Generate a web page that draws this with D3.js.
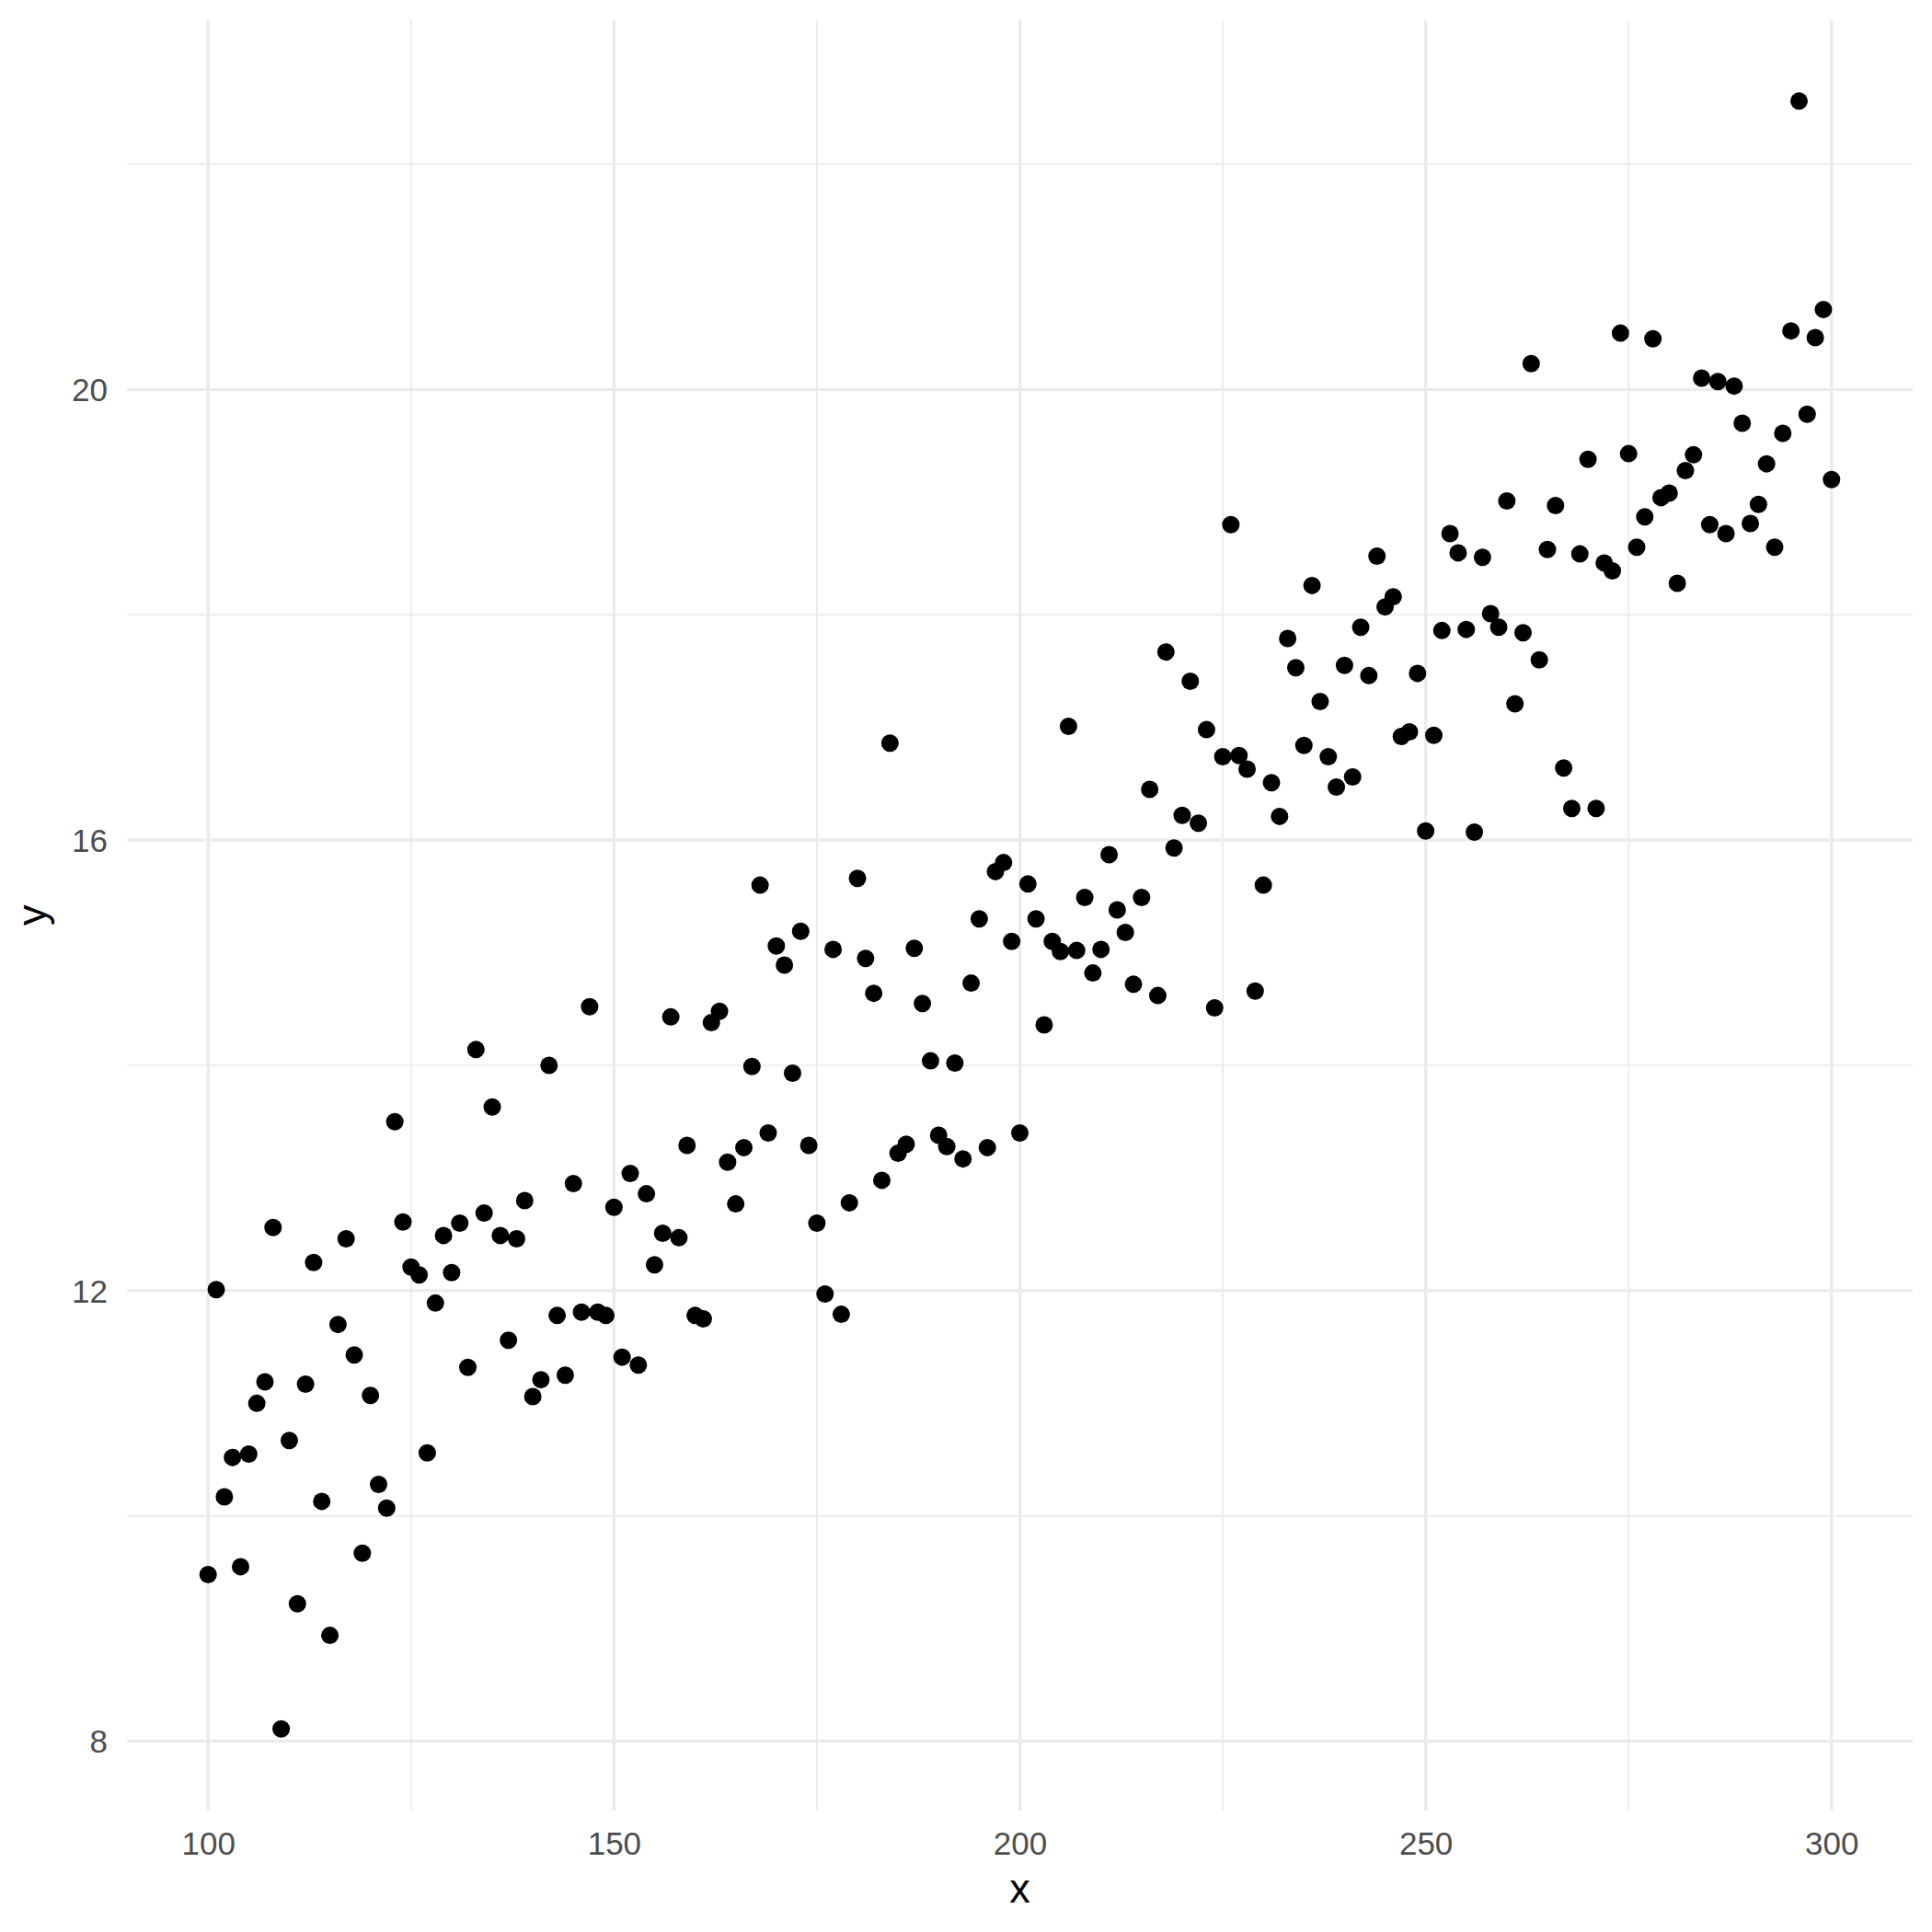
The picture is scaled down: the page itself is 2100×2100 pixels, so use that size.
<!DOCTYPE html>
<html>
<head>
<meta charset="utf-8">
<script src="https://cdn.jsdelivr.net/npm/d3@7"></script>
<style>
  html, body { margin: 0; padding: 0; background: #fff; }
  svg { display: block; }
  text { font-family: "Liberation Sans", Arial, Helvetica, sans-serif; }
</style>
</head>
<body>
<script>
// x values: one point for each integer from 100 to 300
const xStart = 100;
const yValues = [
  9.48, 12.01, 10.17, 10.52, 9.55, 10.55, 11.00, 11.19, 12.56, 8.11,
  10.67, 9.22, 11.17, 12.25, 10.13, 8.94, 11.70, 12.46, 11.43, 9.67,
  11.07, 10.28, 10.07, 13.50, 12.61, 12.21, 12.14, 10.56, 11.89, 12.49,
  12.16, 12.60, 11.32, 14.14, 12.69, 13.63, 12.49, 11.56, 12.46, 12.80,
  11.06, 11.21, 14.00, 11.78, 11.25, 12.95, 11.81, 14.52, 11.81, 11.78,
  12.74, 11.41, 13.04, 11.34, 12.86, 12.23, 12.51, 14.43, 12.47, 13.29,
  11.78, 11.75, 14.38, 14.48, 13.14, 12.77, 13.27, 13.99, 15.60, 13.40,
  15.06, 14.89, 13.93, 15.19, 13.29, 12.60, 11.97, 15.03, 11.79, 12.78,
  15.66, 14.95, 14.64, 12.98, 16.86, 13.22, 13.30, 15.04, 14.55, 14.04,
  13.38, 13.28, 14.02, 13.17, 14.73, 15.30, 13.27, 15.72, 15.80, 15.10,
  13.40, 15.61, 15.30, 14.36, 15.10, 15.01, 17.01, 15.02, 15.49, 14.82,
  15.03, 15.87, 15.38, 15.18, 14.72, 15.49, 16.45, 14.62, 17.67, 15.93,
  16.22, 17.41, 16.15, 16.98, 14.51, 16.74, 18.80, 16.75, 16.63, 14.66,
  15.60, 16.51, 16.21, 17.79, 17.53, 16.84, 18.26, 17.23, 16.74, 16.47,
  17.55, 16.56, 17.89, 17.46, 18.52, 18.07, 18.16, 16.92, 16.96, 17.48,
  16.08, 16.93, 17.86, 18.72, 18.55, 17.87, 16.07, 18.51, 18.01, 17.89,
  19.01, 17.21, 17.84, 20.23, 17.60, 18.58, 18.97, 16.64, 16.28, 18.54,
  19.38, 16.28, 18.46, 18.39, 20.50, 19.43, 18.60, 18.87, 20.45, 19.04,
  19.08, 18.28, 19.28, 19.42, 20.10, 18.80, 20.07, 18.72, 20.03, 19.70,
  18.81, 18.98, 19.34, 18.60, 19.61, 20.52, 22.56, 19.78, 20.46, 20.71,
  19.20
];
const xValues = yValues.map((_, i) => xStart + i);

const xMajorTicks = [100, 150, 200, 250, 300];
const xMinorTicks = [125, 175, 225, 275];
const yMajorTicks = [8, 12, 16, 20];
const yMinorTicks = [10, 14, 18, 22];
const xTitle = "x";
const yTitle = "y";

const W = 2100, H = 2100;
const panel = { left: 138, right: 2079, top: 21.7, bottom: 1968 };

const svg = d3.select("body").append("svg")
  .attr("width", W).attr("height", H)
  .style("background", "#fff");

const x = d3.scaleLinear().domain([90, 310]).range([panel.left, panel.right]);
const y = d3.scaleLinear().domain([7.385, 23.28]).range([panel.bottom, panel.top]);

const grid = svg.append("g");
const gridColor = "#EBEBEB";

// minor gridlines
grid.selectAll("line.xminor").data(xMinorTicks).join("line")
  .attr("x1", d => x(d)).attr("x2", d => x(d))
  .attr("y1", panel.top).attr("y2", panel.bottom)
  .attr("stroke", gridColor).attr("stroke-width", 1.7);
grid.selectAll("line.yminor").data(yMinorTicks).join("line")
  .attr("y1", d => y(d)).attr("y2", d => y(d))
  .attr("x1", panel.left).attr("x2", panel.right)
  .attr("stroke", gridColor).attr("stroke-width", 1.7);
// major gridlines
grid.selectAll("line.xmajor").data(xMajorTicks).join("line")
  .attr("x1", d => x(d)).attr("x2", d => x(d))
  .attr("y1", panel.top).attr("y2", panel.bottom)
  .attr("stroke", gridColor).attr("stroke-width", 3.3);
grid.selectAll("line.ymajor").data(yMajorTicks).join("line")
  .attr("y1", d => y(d)).attr("y2", d => y(d))
  .attr("x1", panel.left).attr("x2", panel.right)
  .attr("stroke", gridColor).attr("stroke-width", 3.3);

// axes (text only, via d3 axis generators)
const xAxis = d3.axisBottom(x).tickValues(xMajorTicks).tickSize(0).tickPadding(0);
const gx = svg.append("g").attr("transform", `translate(0, ${panel.bottom})`).call(xAxis);
gx.select(".domain").remove();
gx.selectAll("text")
  .attr("y", 48).attr("dy", null)
  .attr("font-size", 35).attr("fill", "#4D4D4D")
  .attr("font-family", "Liberation Sans, Arial, sans-serif");

const yAxis = d3.axisLeft(y).tickValues(yMajorTicks).tickSize(0).tickPadding(0);
const gy = svg.append("g").attr("transform", `translate(${panel.left}, 0)`).call(yAxis);
gy.select(".domain").remove();
gy.selectAll("text")
  .attr("x", -21).attr("dy", "0.35em")
  .attr("font-size", 35).attr("fill", "#4D4D4D")
  .attr("font-family", "Liberation Sans, Arial, sans-serif");

// points
const data = xValues.map((xv, i) => ({ x: xv, y: yValues[i] }));
svg.append("g").selectAll("circle").data(data).join("circle")
  .attr("cx", d => x(d.x)).attr("cy", d => y(d.y))
  .attr("r", 9.5).attr("fill", "#000");

// axis titles
svg.append("text")
  .attr("x", (panel.left + panel.right) / 2).attr("y", 2068)
  .attr("text-anchor", "middle").attr("font-size", 45).attr("fill", "#000")
  .text(xTitle);
svg.append("text")
  .attr("transform", `translate(50, ${(panel.top + panel.bottom) / 2}) rotate(-90)`)
  .attr("text-anchor", "middle").attr("font-size", 45).attr("fill", "#000")
  .text(yTitle);
</script>
</body>
</html>
